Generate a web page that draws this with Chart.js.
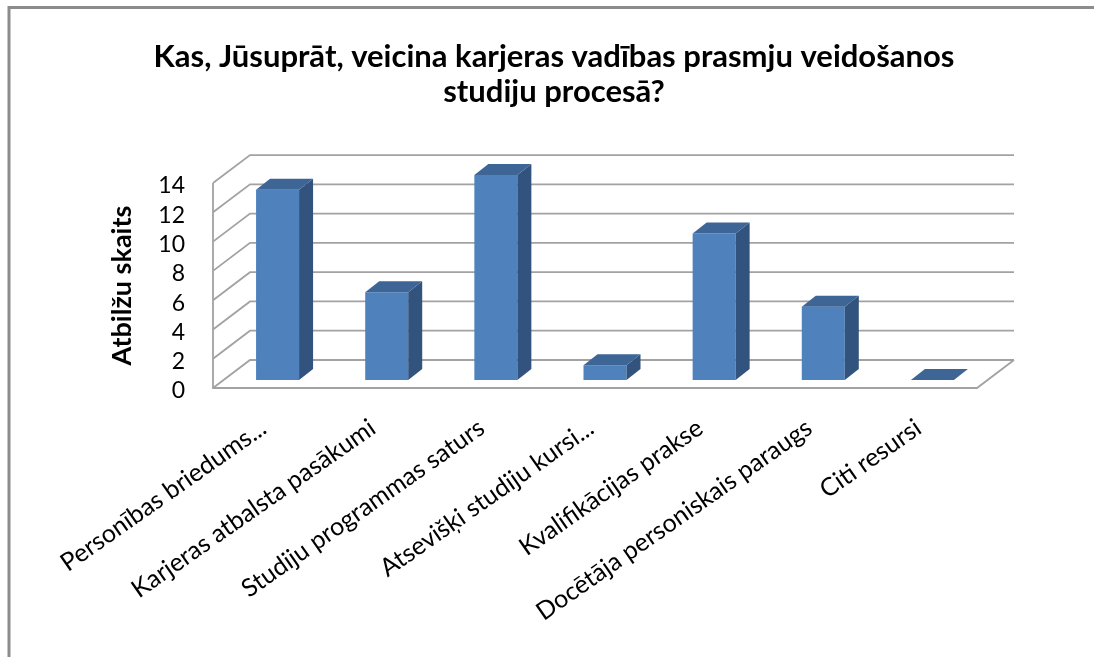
<!DOCTYPE html>
<html><head><meta charset="utf-8">
<script src="https://cdn.jsdelivr.net/npm/chart.js@4.4.1/dist/chart.umd.min.js"></script>
<style>html,body{margin:0;padding:0;background:#fff}#wrap{width:1094px;height:657px;position:relative}</style>
</head><body><div id="wrap"><canvas id="c"></canvas></div>
<script>
const categories = ["Personības briedums...", "Karjeras atbalsta pasākumi", "Studiju programmas saturs", "Atsevišķi studiju kursi...", "Kvalifikācijas prakse", "Docētāja personiskais paraugs", "Citi resursi"];
const answerCounts = [13, 6, 14, 1, 10, 5, 0];
const yTickValues = [0, 2, 4, 6, 8, 10, 12, 14];
const titleLines = ["Kas, Jūsuprāt, veicina karjeras vadības prasmju veidošanos", "studiju procesā?"];
const yAxisTitle = "Atbilžu skaits";

const FONT = "Lato, 'Open Sans', sans-serif";
const WALL = {dx: 37, dy: -28};
const BARSHIFT = {dx: 10, dy: -8};
const DEPTH = {dx: 14, dy: -11};

const frame3d = {
  id: 'frame3d',
  beforeDraw(chart) {
    const ctx = chart.ctx;
    ctx.save();
    ctx.fillStyle = '#fff';
    ctx.fillRect(0, 0, chart.width, chart.height);
    ctx.strokeStyle = '#8c8c8c';
    ctx.lineWidth = 3;
    ctx.beginPath();
    ctx.moveTo(9, chart.height);
    ctx.lineTo(9, 7.5);
    ctx.lineTo(chart.width, 7.5);
    ctx.stroke();
    ctx.restore();
  },
  beforeDatasetsDraw(chart) {
    const ctx = chart.ctx, a = chart.chartArea, ys = chart.scales.y;
    ctx.save();
    ctx.strokeStyle = '#a2a2a2';
    ctx.lineWidth = 1.8;
    ctx.beginPath();
    yTickValues.forEach(v => {
      const py = ys.getPixelForValue(v);
      ctx.moveTo(a.left, py);
      ctx.lineTo(a.left + WALL.dx, py + WALL.dy);
      ctx.lineTo(a.right + WALL.dx, py + WALL.dy);
    });
    ctx.moveTo(a.left, a.top);
    ctx.lineTo(a.left, a.bottom);
    ctx.lineTo(a.right, a.bottom);
    ctx.lineTo(a.right + WALL.dx, a.bottom + WALL.dy);
    ctx.stroke();
    ctx.restore();
    ctx.save();
    ctx.translate(BARSHIFT.dx, BARSHIFT.dy);
  },
  afterDatasetsDraw(chart) {
    const ctx = chart.ctx;
    const meta = chart.getDatasetMeta(0);
    meta.data.forEach(el => {
      const p = el.getProps(['x', 'y', 'base', 'width'], true);
      const l = p.x - p.width / 2, r = p.x + p.width / 2;
      const top = Math.min(p.y, p.base), bot = Math.max(p.y, p.base);
      ctx.fillStyle = '#31537d';
      ctx.beginPath();
      ctx.moveTo(r, top);
      ctx.lineTo(r + DEPTH.dx, top + DEPTH.dy);
      ctx.lineTo(r + DEPTH.dx, bot + DEPTH.dy);
      ctx.lineTo(r, bot);
      ctx.closePath();
      ctx.fill();
      ctx.fillStyle = '#3d6696';
      ctx.beginPath();
      ctx.moveTo(l, top);
      ctx.lineTo(l + DEPTH.dx, top + DEPTH.dy);
      ctx.lineTo(r + DEPTH.dx, top + DEPTH.dy);
      ctx.lineTo(r, top);
      ctx.closePath();
      ctx.fill();
    });
    ctx.restore();
  }
};

new Chart(document.getElementById('c'), {
  type: 'bar',
  data: {
    labels: categories,
    datasets: [{
      data: answerCounts,
      backgroundColor: '#4f81bd',
      borderWidth: 0,
      categoryPercentage: 1,
      barPercentage: 0.394,
      clip: false
    }]
  },
  options: {
    responsive: true,
    maintainAspectRatio: false,
    animation: false,
    events: [],
    layout: {padding: {left: 14, right: 0, top: 0, bottom: 0}},
    plugins: {
      legend: {display: false},
      tooltip: {enabled: false},
      title: {
        display: true,
        text: titleLines,
        color: '#000',
        font: {family: FONT, size: 31, weight: 'bold', lineHeight: 1.13},
        padding: {top: 39.5, bottom: 73.5}
      }
    },
    scales: {
      x: {
        grid: {display: false},
        border: {display: false},
        ticks: {
          color: '#000',
          font: {family: FONT, size: 25},
          minRotation: 35,
          maxRotation: 35,
          autoSkip: false,
          padding: 17,
          labelOffset: -4
        },
        afterFit(s) { s.height = 269; }
      },
      y: {
        min: 0, max: 14,
        grid: {display: false, drawTicks: false},
        border: {display: false},
        afterBuildTicks(s) { s.ticks = yTickValues.map(v => ({value: v})); },
        ticks: {
          color: '#000',
          autoSkip: false,
          font: {family: FONT, size: 23},
          padding: 28,
          labelOffset: 3
        },
        title: {
          display: true,
          text: yAxisTitle,
          color: '#000',
          font: {family: FONT, size: 27, weight: 'bold', lineHeight: 1.2},
          padding: {top: 91.8, bottom: 0}
        },
        afterFit(s) { s.width = 199; }
      },
      y2: {
        position: 'right',
        grid: {display: false, drawTicks: false},
        border: {display: false},
        ticks: {display: false},
        afterFit(s) { s.width = 117; }
      }
    }
  },
  plugins: [frame3d]
});
</script>
</body></html>
